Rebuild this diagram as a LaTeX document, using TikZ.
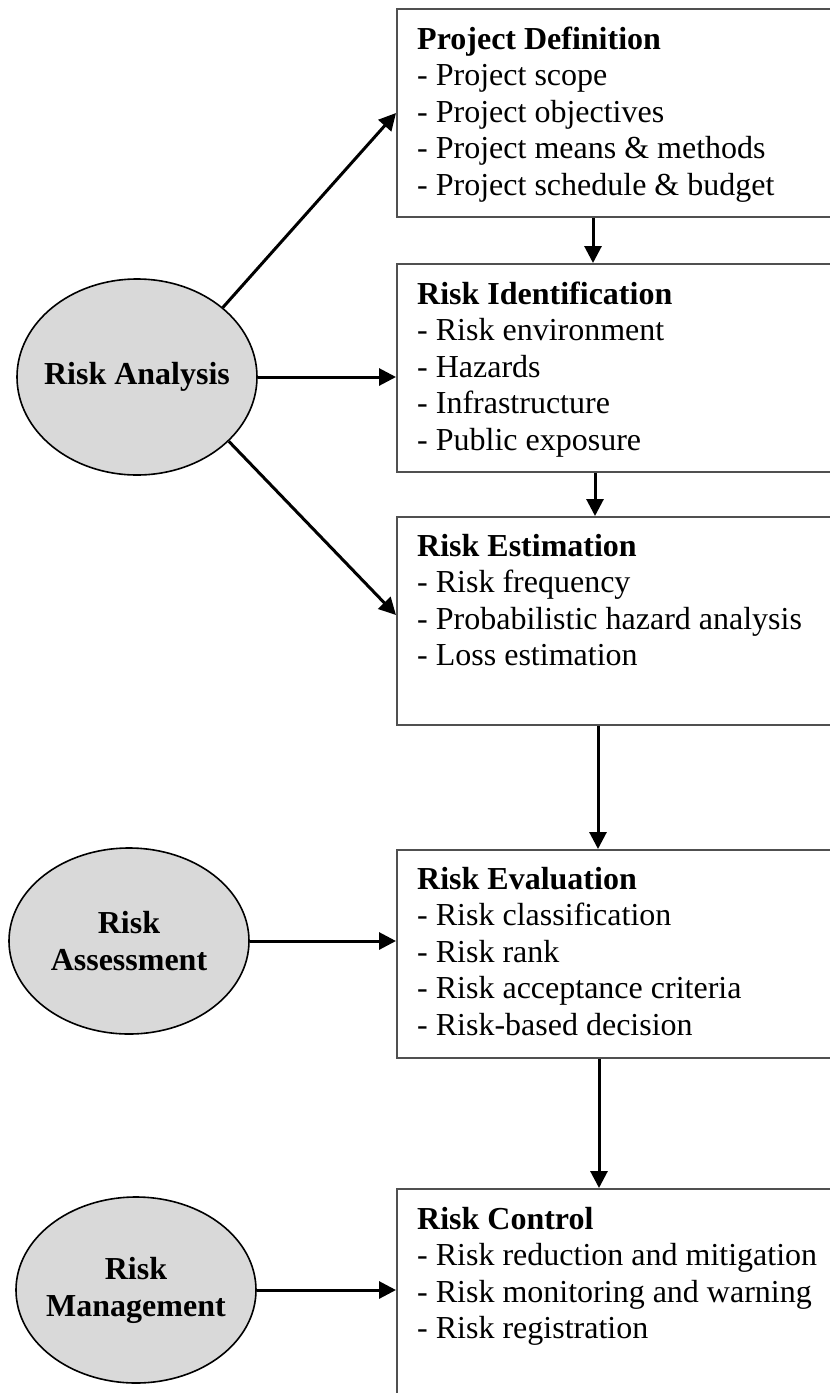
\documentclass[tikz,border=0pt]{standalone}
\usepackage{fontspec}
\setmainfont{Liberation Serif}
\usetikzlibrary{arrows.meta,shapes.geometric}
\definecolor{boxgray}{HTML}{505050}
\definecolor{ovalgray}{HTML}{D9D9D9}
\newcommand{\zb}[1]{\makebox[0pt]{#1}}
\begin{document}
\begin{tikzpicture}[x=1pt,y=-1pt,
  boxnode/.style={draw=boxgray, line width=2pt, rectangle, minimum width=460pt, minimum height=208pt, anchor=north west, inner sep=0pt},
  txt/.style={anchor=base west, inner sep=0pt, text width=420pt, align=left, font=\fontsize{32}{36.6}\selectfont, execute at begin node={\spaceskip=0pt\xspaceskip=0pt\relax}},
  oval/.style={ellipse, draw=black, line width=1.6pt, fill=ovalgray, minimum width=240pt, minimum height=192pt, inner sep=0pt, align=center, font=\fontsize{32}{37}\selectfont\bfseries},
  conn/.style={line width=3pt, -{Triangle[length=17pt,width=17pt]}}]
\useasboundingbox (0,0) rectangle (830,1393);
\clip (0,0) rectangle (830,1393);

% boxes
\node[boxnode] (box1) at (396,8) {};
\node[boxnode] (box2) at (396,263) {};
\node[boxnode] (box3) at (396,516) {};
\node[boxnode] (box4) at (396,849) {};
\node[boxnode] (box5) at (396,1188) {};

% box texts
\node[txt] (t1) at (417,49) {\textbf{Project Definition}\\- Project scope\\- Project objectives\\- Project means \& methods\\- Project schedule \& budget};
\node[txt] (t2) at (417,304) {\textbf{Risk Identification}\\- Risk environment\\- Hazards\\- Infrastructure\\- Public exposure};
\node[txt] (t3) at (417,556) {\textbf{Risk Estimation}\\- Risk frequency\\- Probabilistic hazard analysis\\- Loss estimation};
\node[txt] (t4) at (417,889) {\textbf{Risk Evaluation}\\- Risk classification\\- Risk rank\\- Risk acceptance criteria\\- Risk-based decision};
\node[txt] (t5) at (417,1229) {\textbf{Risk Control}\\- Risk reduction and mitigation\\- Risk monitoring and warning\\- Risk registration};

% ovals
\node[oval, minimum height=196pt] (ra) at (137,377) {\zb{Risk Analysis}};
\node[oval, minimum height=186pt] (ras) at (129,941) {\zb{Risk}\\\zb{Assessment}};
\node[oval, minimum height=186pt] (rm) at (136,1290) {\zb{Risk}\\\zb{Management}};

% connectors between boxes
\draw[conn] ([xshift=197pt]box1.south west) -- ([xshift=197pt]box2.north west);
\draw[conn] ([xshift=199pt]box2.south west) -- ([xshift=199pt]box3.north west);
\draw[conn] ([xshift=202pt]box3.south west) -- ([xshift=202pt]box4.north west);
\draw[conn] ([xshift=203pt]box4.south west) -- ([xshift=203pt]box5.north west);

% connectors from ovals
\draw[conn] (ra.39) -- (box1.west);
\draw[conn] (ra.east) -- (ra.east -| box2.west);
\draw[conn] (ra.-35) -- ([yshift=6pt]box3.west);
\draw[conn] (ras.east) -- (ras.east -| box4.west);
\draw[conn] (rm.east) -- (rm.east -| box5.west);
\end{tikzpicture}
\end{document}
